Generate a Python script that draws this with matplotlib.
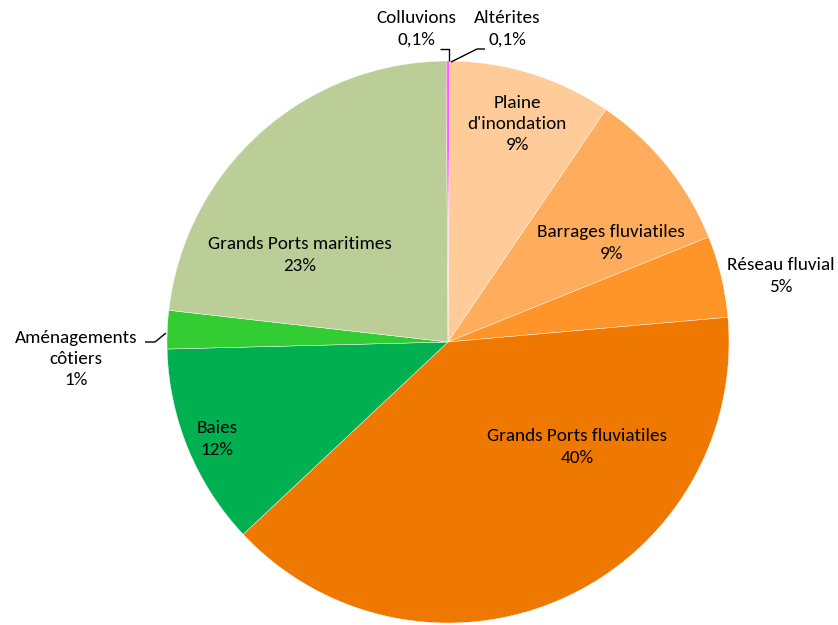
import matplotlib
matplotlib.use("Agg")
import matplotlib.pyplot as plt

# Share of each category (percent), clockwise from 12 o'clock
categories = ["Altérites", "Plaine d'inondation", "Barrages fluviatiles",
              "Réseau fluvial", "Grands Ports fluviatiles", "Baies",
              "Aménagements côtiers", "Grands Ports maritimes", "Colluvions"]
values = [0.1, 9.4, 9.4, 4.7, 39.4, 11.6, 2.2, 23.1, 0.1]
pct_labels = ["0,1%", "9%", "9%", "5%", "40%", "12%", "1%", "23%", "0,1%"]
colors = ["#FF00FF", "#FFCC99", "#FFAD5C", "#FF9429", "#EE7800",
          "#00B050", "#33CC33", "#BBCE98", "#FF4FB8"]

plt.rcParams['font.family'] = ['Carlito', 'Lato', 'DejaVu Sans']

W, H = 838, 625
fig = plt.figure(figsize=(W / 100, H / 100), dpi=100)
ax = fig.add_axes([0, 0, 1, 1])

cx, cy, r = 448, H - 342, 281
ax.pie(values, colors=colors, startangle=90, counterclock=False,
       center=(cx, cy), radius=r,
       wedgeprops=dict(linewidth=0.3, edgecolor="white"))
ax.set_xlim(0, W)
ax.set_ylim(0, H)
ax.set_aspect("equal")
ax.axis("off")

fs = 13.8

def label(x, y, s):
    ax.text(x, H - y, s, ha="center", va="center", fontsize=fs,
            color="#000000", linespacing=1.42)

# Text for each slice: name and share, positions in pixel units
label(416, 29, "Colluvions\n" + pct_labels[8])
label(507, 29, "Altérites\n" + pct_labels[0])
label(517, 124, "Plaine\nd'inondation\n" + pct_labels[1])
label(611, 243, "Barrages fluviatiles\n" + pct_labels[2])
label(781, 276, "Réseau fluvial\n" + pct_labels[3])
label(577, 447, "Grands Ports fluviatiles\n" + pct_labels[4])
label(217, 439, "Baies\n" + pct_labels[5])
label(76, 359, "Aménagements\ncôtiers\n" + pct_labels[6])
label(300, 255, "Grands Ports maritimes\n" + pct_labels[7])

# Leader lines for the labels placed outside the pie
def leader(pts):
    xs = [p[0] for p in pts]
    ys = [H - p[1] for p in pts]
    ax.plot(xs, ys, color="black", linewidth=1.0, solid_capstyle="butt")

leader([(440, 49), (449, 49), (449, 61)])
leader([(451, 62), (477, 49), (485, 49)])
leader([(145, 342), (155, 342), (166, 333)])

fig.savefig("out.png", dpi=100)
